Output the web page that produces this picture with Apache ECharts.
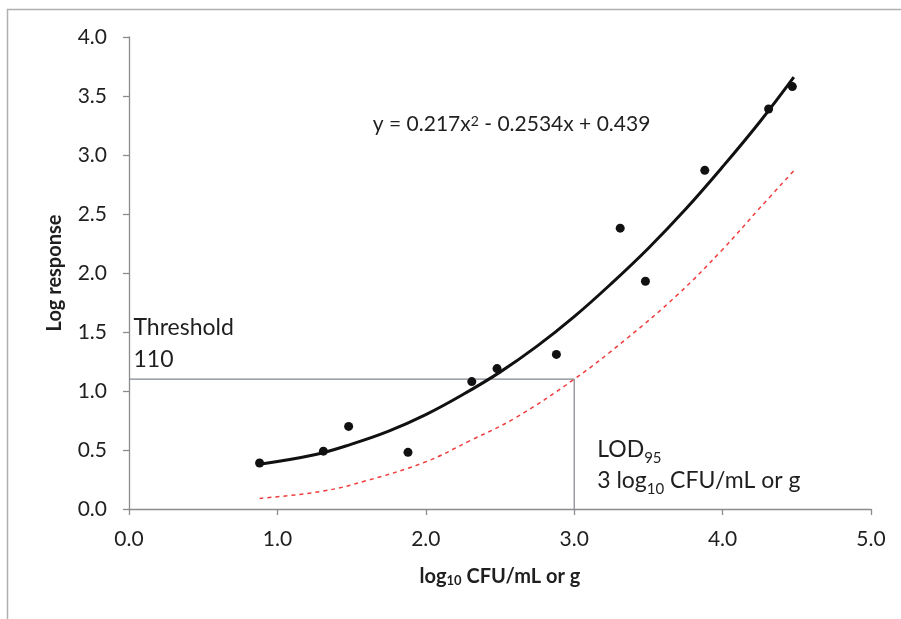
<!DOCTYPE html>
<html style="height: 100%">
<head>
    <meta charset="utf-8">
</head>
<body style="height: 100%; margin: 0; background: #fff">
<div id="container" style="width: 901px; height: 619px"></div>
<script type="text/javascript" src="https://cdn.jsdelivr.net/npm/echarts@6/dist/echarts.min.js"></script>
<script type="text/javascript">
    var dom = document.getElementById("container");
    var myChart = echarts.init(dom);

    // measured points (log10 CFU/mL or g, log response)
    var obsX = [0.88, 1.31, 1.48, 1.88, 2.31, 2.48, 2.88, 3.31, 3.48, 3.88, 4.31, 4.47];
    var obsY = [0.39, 0.49, 0.70, 0.48, 1.08, 1.19, 1.31, 2.38, 1.93, 2.87, 3.39, 3.58];

    // fitted curve
    var fitX = [0.88, 1.25, 1.5, 1.75, 2.0, 2.25, 2.5, 2.75, 3.0, 3.25, 3.5, 3.75, 4.0, 4.25, 4.48];
    var fitY = [0.38, 0.46, 0.55, 0.66, 0.80, 0.97, 1.16, 1.38, 1.63, 1.91, 2.21, 2.54, 2.90, 3.28, 3.66];

    // lower (red dashed) curve
    var lowX = [0.88, 1.3, 1.6, 2.0, 2.3, 2.6, 3.0, 3.35, 3.7, 4.0, 4.25, 4.49];
    var lowY = [0.09, 0.15, 0.24, 0.40, 0.58, 0.77, 1.10, 1.44, 1.82, 2.20, 2.55, 2.88];

    var threshold = 1.1;
    var lod = 3.0;

    var xTicks = {min: 0, max: 5, step: 1};
    var yTicks = {min: 0, max: 4, step: 0.5};

    function zip(xs, ys) {
        var out = [];
        for (var i = 0; i < xs.length; i++) out.push([xs[i], ys[i]]);
        return out;
    }

    var txt = '#1f1f1f';
    var axisCol = '#8c8c8c';
    var font = 'Lato';

    var option = {
        animation: false,
        textStyle: {fontFamily: font},
        grid: {left: 129, right: 30, top: 37, bottom: 110},
        graphic: [{
            type: 'polyline',
            silent: true,
            shape: {points: [[7.5, 619], [7.5, 9.5], [901, 9.5]]},
            style: {stroke: '#b0b0b0', lineWidth: 1.5, fill: null}
        }],
        xAxis: {
            type: 'value',
            min: xTicks.min, max: xTicks.max, interval: xTicks.step,
            splitLine: {show: false},
            axisLine: {lineStyle: {color: axisCol, width: 1.3}},
            axisTick: {show: true, length: 6, lineStyle: {color: axisCol, width: 1.3}},
            axisLabel: {
                color: txt, fontSize: 21, fontFamily: font, margin: 20,
                formatter: function (v) { return v.toFixed(1); }
            },
            name: 'log{s|10} CFU/mL or g',
            nameLocation: 'middle',
            nameGap: 58,
            nameTextStyle: {
                color: txt, fontSize: 20, fontWeight: 'bold', fontFamily: font,
                rich: {s: {fontSize: 13, fontWeight: 'bold', fontFamily: font, color: txt, verticalAlign: 'bottom', lineHeight: 10}}
            }
        },
        yAxis: {
            type: 'value',
            min: yTicks.min, max: yTicks.max, interval: yTicks.step,
            splitLine: {show: false},
            axisLine: {lineStyle: {color: axisCol, width: 1.3}},
            axisTick: {show: true, length: 6, lineStyle: {color: axisCol, width: 1.3}},
            axisLabel: {
                color: txt, fontSize: 21, fontFamily: font, margin: 22,
                formatter: function (v) { return v.toFixed(1); }
            },
            name: 'Log response',
            nameLocation: 'middle',
            nameGap: 64,
            nameTextStyle: {color: txt, fontSize: 20, fontWeight: 'bold', fontFamily: font}
        },
        series: [
            {
                name: 'threshold',
                type: 'line',
                data: [[xTicks.min, threshold], [lod, threshold], [lod, yTicks.min]],
                symbol: 'none',
                lineStyle: {color: '#80858f', width: 1.2},
                z: 1
            },
            {
                name: 'lower',
                type: 'line',
                data: zip(lowX, lowY),
                smooth: 0.4,
                symbol: 'none',
                lineStyle: {color: '#f03c3c', width: 1.5, type: [4, 4]},
                z: 2
            },
            {
                name: 'fit',
                type: 'line',
                data: zip(fitX, fitY),
                smooth: 0.4,
                symbol: 'none',
                lineStyle: {color: '#111', width: 3},
                z: 3
            },
            {
                name: 'observed',
                type: 'scatter',
                data: zip(obsX, obsY),
                symbolSize: 9,
                itemStyle: {color: '#111', opacity: 1},
                z: 4
            },
            {
                name: 'notes',
                type: 'scatter',
                symbolSize: 0,
                silent: true,
                z: 5,
                itemStyle: {opacity: 1},
                label: {
                    show: true, position: 'right', distance: 0, align: 'left',
                    color: txt, fontFamily: font
                },
                data: [
                    {
                        value: [0.03, 1.40],
                        label: {formatter: 'Threshold\n110', fontSize: 23, lineHeight: 32}
                    },
                    {
                        value: [3.155, 0.37],
                        label: {
                            formatter: '{a|LOD}{s|95}\n{a|3 log}{s|10}{a| CFU/mL or g}',
                            rich: {
                                a: {fontSize: 23, lineHeight: 31, color: txt, fontFamily: font},
                                s: {fontSize: 15, lineHeight: 12, verticalAlign: 'bottom', color: txt, fontFamily: font}
                            }
                        }
                    },
                    {
                        value: [1.643, 3.257],
                        label: {
                            formatter: 'y = 0.217x{p|2} - 0.2534x + 0.439',
                            fontSize: 21,
                            rich: {
                                p: {fontSize: 14, lineHeight: 12, verticalAlign: 'top', color: txt, fontFamily: font}
                            }
                        }
                    }
                ]
            }
        ]
    };

    myChart.setOption(option);
</script>
</body>
</html>
